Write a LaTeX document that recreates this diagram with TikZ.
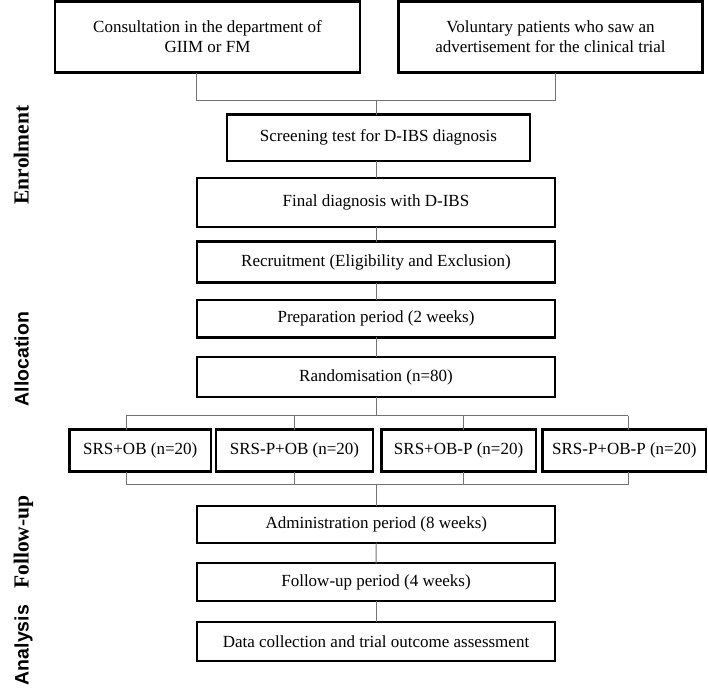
\documentclass[tikz,border=0pt]{standalone}
\usepackage{fontspec}
\setmainfont{Liberation Serif}
\setsansfont{Liberation Sans}
\usepackage{tikz}
\usetikzlibrary{positioning,calc}

\begin{document}
\begin{tikzpicture}[x=1pt, y=-1pt,
        stage/.style={draw, line width=2.3pt, inner sep=0pt, outer sep=0pt, align=center, font=\fontsize{17}{20}\selectfont},
        arm/.style={stage, minimum height=42pt},
        link/.style={draw=black!55, line width=0.9pt},
        phase/.style={rotate=90, anchor=base, font=\bfseries\fontsize{21.5}{24}\selectfont},
        phasesf/.style={phase, font=\sffamily\bfseries\fontsize{19.5}{22}\selectfont}]
        \useasboundingbox (0,0) rectangle (708,697);

        % Sources
        \node [stage, minimum width=305pt, minimum height=71pt] (cons) at (207.5,37) {Consultation in the department of\\GIIM or FM};
        \node [stage, minimum width=304pt, minimum height=71pt] (vol) at (550.5,37) {Voluntary patients who saw an\\advertisement for the clinical trial};
        \coordinate (joinL) at (196.5,100);
        \coordinate (joinR) at (555,100);

        % Enrolment
        \node [stage, minimum width=303pt, minimum height=46.5pt] (screen) at (378.5,137.8) {Screening test for D-IBS diagnosis};
        \node [stage, minimum width=357.5pt, minimum height=49pt] (final) at (376,202.2) {Final diagnosis with D-IBS};
        \node [stage, minimum width=357.5pt, minimum height=41pt] (recruit) at (376,262) {Recruitment (Eligibility and Exclusion)};

        % Allocation
        \node [stage, minimum width=357.5pt, minimum height=37.3pt] (prep) at (376,318.7) {Preparation period (2 weeks)};
        \node [stage, minimum width=357.5pt, minimum height=40pt] (rand) at (376,377.3) {Randomisation (n=80)};

        % Four arms
        \node [arm, minimum width=141.7pt] (g1) at (140.2,450.5) {SRS+OB (n=20)};
        \node [arm, minimum width=157pt] (g2) at (294.5,450.5) {SRS-P+OB (n=20)};
        \node [arm, minimum width=154.2pt] (g3) at (458.6,450.5) {SRS+OB-P (n=20)};
        \node [arm, minimum width=163.5pt] (g4) at (624.3,450.5) {SRS-P+OB-P (n=20)};
        \foreach \i/\x in {1/126,2/294.4,3/463.2,4/628.3} {
            \coordinate (split\i) at (\x,415.5);
            \coordinate (merge\i) at (\x,484.5);
        }

        % Follow-up and analysis
        \node [stage, minimum width=358pt, minimum height=36.7pt] (admin) at (376.3,524.3) {Administration period (8 weeks)};
        \node [stage, minimum width=357.5pt, minimum height=37.4pt] (follow) at (376,582) {Follow-up period (4 weeks)};
        \node [stage, minimum width=357.5pt, minimum height=39pt] (data) at (376,641.2) {Data collection and trial outcome assessment};

        % Connectors
        \draw [link] (joinL |- cons.south) -- (joinL) -- (joinR) -- (joinR |- vol.south);
        \draw [link] (screen.north -| final.north) -- (final.north |- joinL);
        \draw [link] (screen.south -| final.north) -- (final.north);
        \draw [link] (final) -- (recruit);
        \draw [link] (recruit) -- (prep);
        \draw [link] (prep) -- (rand);
        \draw [link] (rand.south) -- (rand.south |- split1);
        \draw [link] (split1) -- (split4);
        \draw [link] (merge1) -- (merge4);
        \draw [link] (admin.north) -- (admin.north |- merge1);
        \foreach \i in {1,...,4} {
            \draw [link] (split\i) -- (split\i |- g\i.north);
            \draw [link] (merge\i) -- (merge\i |- g\i.south);
        }
        \draw [link] (admin) -- (follow);
        \draw [link] (follow) -- (data);

        % Phase labels
        \node [phase] (enrol) at (28.5,155) {Enrolment};
        \node [phasesf] (alloc) at (28.5,359) {Allocation};
        \node [phase] (fup) at (28.5,542) {Follow-up};
        \node [phasesf] (anal) at (28.5,645) {Analysis};
    \end{tikzpicture}
\end{document}
